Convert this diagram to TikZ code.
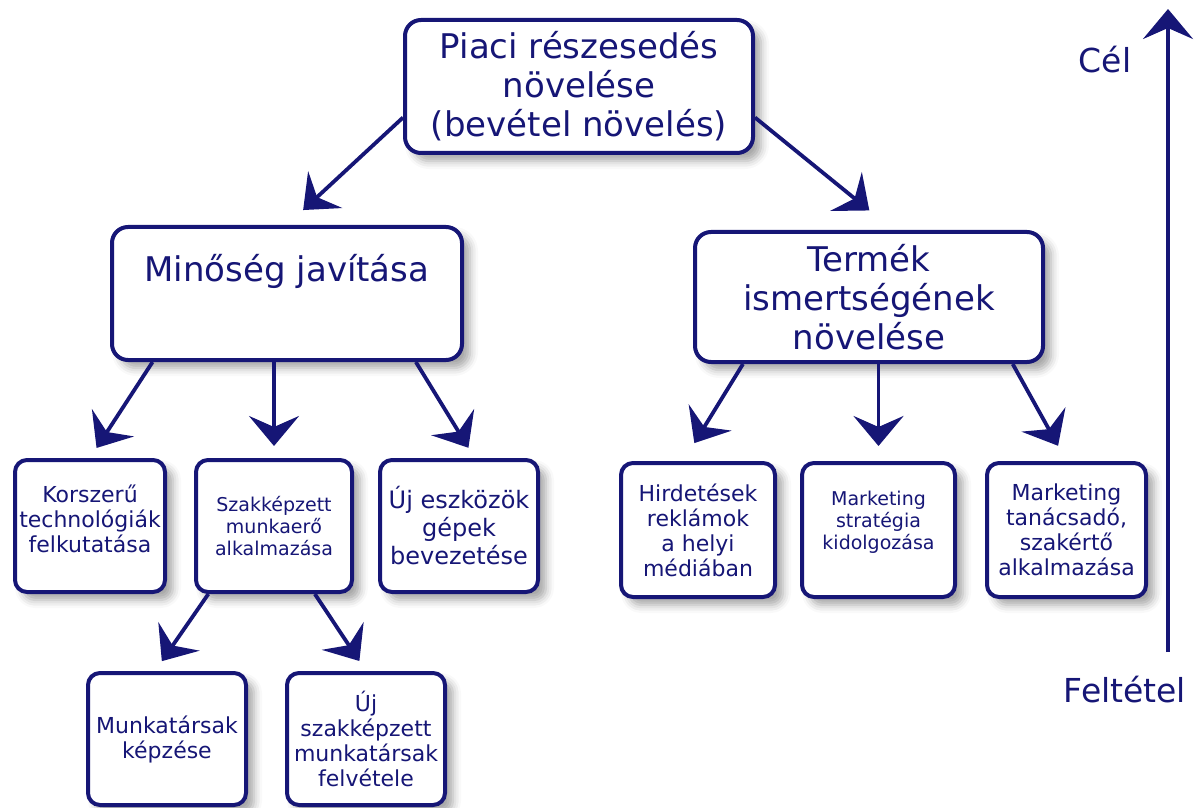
\documentclass[tikz,border=0pt]{standalone}
\usepackage{fontspec}
\setmainfont{DejaVu Sans}
\usetikzlibrary{arrows.meta, shadows.blur}
\definecolor{diagblue}{RGB}{22,22,118}

\begin{document}
\begin{tikzpicture}[
    x=0.5pt, y=-0.5pt,
    >={Stealth[length=15pt, width=25pt, inset=5.5pt]},
    box/.style={draw=diagblue, line width=2pt, fill=white, text=diagblue, align=center, inner sep=2pt,
        blur shadow={shadow xshift=4pt, shadow yshift=-4pt, shadow blur radius=4pt, shadow opacity=35}},
    bigbox/.style={box, rounded corners=8pt, font=\fontsize{17}{19.5}\selectfont},
    smallbox/.style={box, rounded corners=6pt, minimum height=66pt, font=\fontsize{11}{12.5}\selectfont},
    link/.style={->, draw=diagblue, line width=1.9pt},
    axislabel/.style={text=diagblue, font=\fontsize{16.5}{19}\selectfont}
]

% Picture frame (pixel units)
\useasboundingbox (0,0) rectangle (1197,807);

% Goal at the top
\node[bigbox, minimum width=174pt, minimum height=66.5pt] (piaci) at (579,86.5)
    {Piaci részesedés\\növelése\\(bevétel növelés)};

% Second level
\node[bigbox, minimum width=175pt, minimum height=66.5pt, text depth=26pt] (minoseg) at (287,293.5)
    {Minőség javítása};
\node[bigbox, minimum width=174pt, minimum height=65pt] (termek) at (869,297)
    {Termék\\ismertségének\\növelése};

% Third level, left branch
\node[smallbox, minimum width=75pt, text depth=7pt] (korszeru) at (90,526)
    {Korszerű\\technológiák\\felkutatása};
\node[smallbox, minimum width=78pt, font=\fontsize{9.5}{11}\selectfont] (szak) at (274,526)
    {Szakképzett\\munkaerő\\alkalmazása};
\node[smallbox, minimum width=79pt, font=\fontsize{12}{14}\selectfont] (eszkoz) at (459,526)
    {Új eszközök\\gépek\\bevezetése};

% Third level, right branch
\node[smallbox, minimum width=77pt, minimum height=67pt] (hirdet) at (698,530)
    {Hirdetések\\reklámok\\a helyi\\médiában};
\node[smallbox, minimum width=76.5pt, minimum height=67pt, text depth=10pt,
    font=\fontsize{9.5}{11}\selectfont] (strat) at (878.5,530)
    {Marketing\\stratégia\\kidolgozása};
\node[smallbox, minimum width=79.5pt, minimum height=67pt] (tanacs) at (1066.5,530)
    {Marketing\\tanácsadó,\\szakértő\\alkalmazása};

% Fourth level
\node[smallbox, minimum width=79pt] (munka) at (167,739)
    {Munkatársak\\képzése};
\node[smallbox, minimum width=79pt] (ujszak) at (366,739)
    {Új\\szakképzett\\munkatársak\\felvétele};

% Arrows between levels
\draw[link, shorten >=11pt] (piaci.190) -- (minoseg.north);
\draw[link, shorten >=15.5pt] (piaci.-10) -- (termek.70);

\draw[link, shorten >=6pt] (minoseg.207) -- (korszeru.north);
\draw[link, shorten >=6pt] (minoseg.south -| szak.north) -- (szak.north);
\draw[link, shorten >=6pt] (minoseg.-28) -- (eszkoz.77);

\draw[link, shorten >=10.5pt] (termek.208) -- (hirdet.102);
\draw[link, shorten >=7.5pt] (termek.south -| strat.north) -- (strat.north);
\draw[link, shorten >=8.7pt] (termek.-25) -- (tanacs.north);

\draw[link, shorten >=6pt] (szak.226) -- (munka.100);
\draw[link, shorten >=6pt] (szak.-59) -- (ujszak.north);

% Direction axis on the right
\coordinate (axisbot) at (1168,652);
\coordinate (axistop) at (1168,9);
\draw[link, line width=2pt] (axisbot) -- (axistop);
\node[axislabel] (cel) at (1105,60) {Cél};
\node[axislabel] (feltetel) at (1125,690) {Feltétel};

\end{tikzpicture}
\end{document}
